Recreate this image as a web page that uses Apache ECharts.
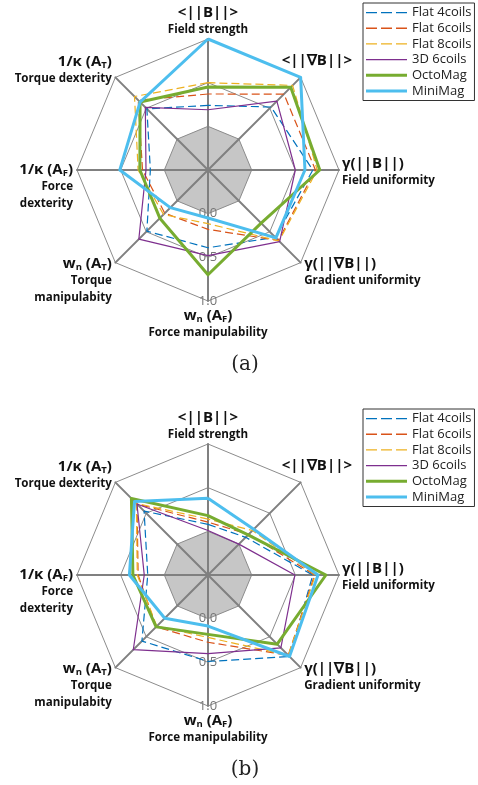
<!DOCTYPE html>
<html>
<head>
<meta charset="utf-8">
<script src="https://cdn.jsdelivr.net/npm/echarts@6.0.0/dist/echarts.min.js"></script>
<style>
  html, body { margin: 0; padding: 0; background: #fff; }
  #main { width: 478px; height: 785px; }
</style>
</head>
<body>
<div id="main"></div>
<script>
// axes, counter-clockwise from the top (ECharts radar order)
var axisNames = [
    '{m|<||B||>}\n{s|Field strength}',
    '{m|1/κ (A}{sub|T}{m|)}\n{s|Torque dexterity}',
    '{m|1/κ (A}{sub|F}{m|)}\n{s|Force}\n{s|dexterity}',
    '{m|w}{sub|n}{m| (A}{sub|T}{m|)}\n{s|Torque}\n{s|manipulabity}',
    '{m|w}{sub|n}{m| (A}{sub|F}{m|)}\n{s|Force manipulability}',
    '{m|γ(||∇B||)}\n{s|Gradient uniformity}',
    '{m|γ(||B||)}\n{s|Field uniformity}',
    '{m|<||∇B||>}'
];
var tickLabels = ['0.0', '0.5', '1.0'];

var seriesNames = ['Flat 4coils', 'Flat 6coils', 'Flat 8coils', '3D 6coils', 'OctoMag', 'MiniMag'];
var seriesColors = ['#0072BD', '#D95319', '#EDB120', '#7E2F8E', '#77AC30', '#4DBEEE'];

// (a)
var flat4A = [0.24, 0.49, 0.16, 0.49, 0.39, 0.59, 0.70, 0.52];
var flat6A = [0.37, 0.63, 0.25, 0.20, 0.18, 0.64, 0.73, 0.73];
var flat8A = [0.50, 0.69, 0.30, 0.22, 0.115, 0.65, 0.75, 0.87];
var d3A    = [0.19, 0.515, 0.21, 0.62, 0.48, 0.66, 0.50, 0.615];
var octoA  = [0.45, 0.60, 0.28, 0.28, 0.70, 0.36, 0.78, 0.84];
var miniA  = [1.0, 0.60, 0.51, 0.11, 0.05, 0.60, 0.61, 1.0];

// (b)
var flat4B = [0.08, 0.535, 0.19, 0.57, 0.49, 0.82, 0.70, 0.11];
var flat6B = [0.105, 0.65, 0.30, 0.34, 0.27, 0.80, 0.72, 0.16];
var flat8B = [0.14, 0.66, 0.31, 0.33, 0.215, 0.80, 0.73, 0.22];
var d3B    = [0.01, 0.65, 0.23, 0.71, 0.40, 0.68, 0.495, 0.0];
var octoB  = [0.18, 0.74, 0.36, 0.34, 0.18, 0.62, 0.85, 0.15];
var miniB  = [0.38, 0.69, 0.40, 0.20, 0.085, 0.82, 0.76, 0.24];

var valuesA = [flat4A, flat6A, flat8A, d3A, octoA, miniA];
var valuesB = [flat4B, flat6B, flat8B, d3B, octoB, miniB];

var myChart = echarts.init(document.getElementById('main'));

// per axis name placement
var nameGaps = [1, 5, 4, 5, 6.5, 5, 3, 23];
var namePads = [null, [0, 0, 7, 0], [33, 0, 0, 0], [29, 0, 0, 0], null, [12, 0, 0, 0], [4, 0, 0, 0], null];

function makeIndicators() {
    return axisNames.map(function (n, i) {
        var ind = { name: n, min: -0.5, max: 1, nameGap: nameGaps[i] };
        var ts = {};
        if (namePads[i]) ts.padding = namePads[i];
        if (i == 7) ts.align = 'center';
        ind.nameTextStyle = ts;
        if (i == 4) {
            ind.axisLabel = {
                show: true,
                margin: 0,
                align: 'center',
                verticalAlign: 'middle',
                color: '#777',
                fontSize: 13,
                fontFamily: 'Open Sans',
                formatter: function (v) {
                    if (v < 0) return '';
                    return tickLabels[Math.round(v * 2)];
                }
            };
        }
        return ind;
    });
}

function makeRadar(cy) {
    return {
        center: [208, cy],
        radius: 131,
        shape: 'polygon',
        splitNumber: 3,
        startAngle: 90,
        indicator: makeIndicators(),
        axisName: {
            color: '#111',
            fontFamily: 'Open Sans',
            rich: {
                m: { fontSize: 15, fontWeight: 'bold', lineHeight: 17, fontFamily: 'Open Sans', color: '#111' },
                sub: { fontSize: 9.5, fontWeight: 'bold', lineHeight: 9, padding: [7, 0, 0, 0], fontFamily: 'Open Sans', color: '#111' },
                s: { fontSize: 11.6, fontWeight: 'bold', lineHeight: 17, fontFamily: 'Open Sans', color: '#111' }
            }
        },
        axisLine: { lineStyle: { color: '#808080', width: 2 } },
        splitLine: { lineStyle: { color: '#8c8c8c', width: 1 } },
        splitArea: { show: true, areaStyle: { color: ['#c6c6c6', 'rgba(0,0,0,0)', 'rgba(0,0,0,0)'] } },
        axisLabel: { show: false }
    };
}

var dashPath = 'path://M0,0M41,6M0,2.4h11v1.3h-11zM15,2.4h11v1.3h-11zM30,2.4h11v1.3h-11z';
var thinPath = 'path://M0,0M41,6M0,2.4h41v1.3h-41z';
var thickPath = 'path://M0,0M41,6M0,1.5h41v3h-41z';
var legendIcons = [dashPath, dashPath, dashPath, thinPath, thickPath, thickPath];

function makeLegend(top) {
    return {
        orient: 'vertical',
        left: 363,
        top: top,
        padding: [3, 3, 3, 3],
        itemGap: 2.7,
        itemWidth: 41,
        itemHeight: 6,
        symbolKeepAspect: false,
        borderColor: '#333',
        borderWidth: 1,
        backgroundColor: '#fff',
        textStyle: { fontSize: 13, lineHeight: 13, color: '#222', fontFamily: 'Open Sans' },
        data: seriesNames.map(function (n, i) { return { name: n, icon: legendIcons[i] }; })
    };
}

function makeSeries(vals, radarIndex) {
    return seriesNames.map(function (n, i) {
        var dashed = i < 3;
        var w = i < 4 ? 1.2 : 3;
        return {
            name: n,
            type: 'radar',
            radarIndex: radarIndex,
            symbol: 'none',
            silent: true,
            itemStyle: { color: seriesColors[i] },
            lineStyle: { color: seriesColors[i], width: w, type: dashed ? [8, 4] : 'solid' },
            data: [{ value: vals[i], name: n }]
        };
    });
}

option = {
    backgroundColor: '#fff',
    animation: false,
    radar: [makeRadar(170), makeRadar(575)],
    legend: [makeLegend(3), makeLegend(409)],
    series: makeSeries(valuesA, 0).concat(makeSeries(valuesB, 1)),
    graphic: [
        { type: 'text', x: 245, y: 365, style: { text: '(a)', font: '20px "DejaVu Serif"', fill: '#222', align: 'center', verticalAlign: 'middle' } },
        { type: 'text', x: 245, y: 770, style: { text: '(b)', font: '20px "DejaVu Serif"', fill: '#222', align: 'center', verticalAlign: 'middle' } }
    ]
};
myChart.setOption(option);
</script>
</body>
</html>
